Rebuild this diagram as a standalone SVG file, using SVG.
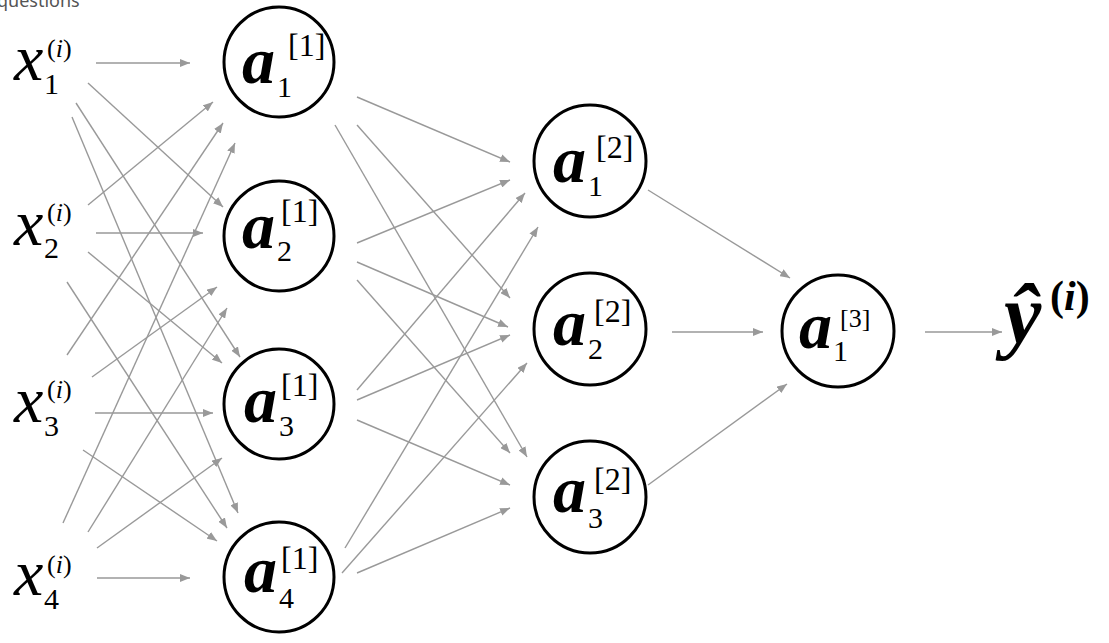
<svg xmlns="http://www.w3.org/2000/svg" width="1109" height="643" viewBox="0 0 1109 643">
<style>
text{font-family:"Liberation Serif","Times New Roman",Times,"DejaVu Serif",serif;fill:#000}
.c{fill:#fff;stroke:#000;stroke-width:3}
.e{stroke:#999;stroke-width:1.4;fill:none;marker-end:url(#ah)}
.a{font-style:italic;font-weight:bold;font-size:66px}
.x{font-style:italic;font-size:66px}
.s{font-size:30px}
.p{font-size:32px}
.q{font-size:26px}
.i{font-style:italic}
.t{font-family:"Noto Sans","Open Sans",sans-serif;font-size:18px;fill:#555}
</style>
<defs>
<marker id="ah" viewBox="0 0 10 8" refX="10" refY="4" markerWidth="10" markerHeight="8" markerUnits="userSpaceOnUse" orient="auto">
<path d="M0,0 L10,4 L0,8 z" fill="#999"/>
</marker>
</defs>
<rect width="1109" height="643" fill="#fff"/>
<text class="t" x="-3" y="7">questions</text>
<g id="connectors">
<line class="e" x1="96" y1="63" x2="190" y2="63"/>
<line class="e" x1="88" y1="83" x2="223" y2="207"/>
<line class="e" x1="76" y1="103" x2="240" y2="357"/>
<line class="e" x1="72" y1="117" x2="238" y2="513"/>
<line class="e" x1="88" y1="205" x2="213" y2="102"/>
<line class="e" x1="96" y1="233" x2="203" y2="233"/>
<line class="e" x1="88" y1="252" x2="222" y2="363"/>
<line class="e" x1="67" y1="282" x2="227" y2="528"/>
<line class="e" x1="67" y1="355" x2="223" y2="123"/>
<line class="e" x1="92" y1="377" x2="217" y2="287"/>
<line class="e" x1="95" y1="413" x2="213" y2="413"/>
<line class="e" x1="83" y1="450" x2="217" y2="541"/>
<line class="e" x1="63" y1="523" x2="235" y2="143"/>
<line class="e" x1="88" y1="532" x2="227" y2="308"/>
<line class="e" x1="97" y1="548" x2="222" y2="458"/>
<line class="e" x1="97" y1="578" x2="190" y2="578"/>
<line class="e" x1="357" y1="97" x2="510" y2="162"/>
<line class="e" x1="357" y1="125" x2="510" y2="298"/>
<line class="e" x1="335" y1="125" x2="527" y2="457"/>
<line class="e" x1="357" y1="243" x2="510" y2="180"/>
<line class="e" x1="357" y1="262" x2="508" y2="327"/>
<line class="e" x1="357" y1="280" x2="510" y2="453"/>
<line class="e" x1="357" y1="390" x2="525" y2="193"/>
<line class="e" x1="357" y1="400" x2="510" y2="335"/>
<line class="e" x1="357" y1="420" x2="510" y2="485"/>
<line class="e" x1="345" y1="548" x2="538" y2="227"/>
<line class="e" x1="342" y1="573" x2="527" y2="363"/>
<line class="e" x1="357" y1="573" x2="510" y2="508"/>
<line class="e" x1="648" y1="190" x2="790" y2="278"/>
<line class="e" x1="672" y1="332" x2="763" y2="332"/>
<line class="e" x1="648" y1="485" x2="787" y2="384"/>
<line class="e" x1="925" y1="332" x2="1002" y2="332"/>
</g>
<g id="x1"><text class="x" x="14" y="80">x</text><text class="s" x="44" y="94">1</text><text class="q" x="47" y="57">(<tspan class="i">i</tspan>)</text></g>
<g id="x2"><text class="x" x="14" y="245">x</text><text class="s" x="44" y="258">2</text><text class="q" x="47" y="221">(<tspan class="i">i</tspan>)</text></g>
<g id="x3"><text class="x" x="14" y="422">x</text><text class="s" x="44" y="436">3</text><text class="q" x="47" y="398">(<tspan class="i">i</tspan>)</text></g>
<g id="x4"><text class="x" x="14" y="595">x</text><text class="s" x="44" y="609">4</text><text class="q" x="47" y="573">(<tspan class="i">i</tspan>)</text></g>
<g id="a11"><circle class="c" cx="279" cy="62" r="55"/><text class="a" x="242" y="83">a</text><text class="s" x="277" y="97">1</text><text class="p" x="288" y="56">[1]</text></g>
<g id="a21"><circle class="c" cx="279" cy="236" r="55"/><text class="a" x="242" y="248">a</text><text class="s" x="277" y="261">2</text><text class="p" x="281" y="222">[1]</text></g>
<g id="a31"><circle class="c" cx="279" cy="404" r="55"/><text class="a" x="244" y="422">a</text><text class="s" x="279" y="436">3</text><text class="p" x="281" y="396">[1]</text></g>
<g id="a41"><circle class="c" cx="279" cy="577" r="55"/><text class="a" x="244" y="592">a</text><text class="s" x="279" y="608">4</text><text class="p" x="281" y="569">[1]</text></g>
<g id="a12"><circle class="c" cx="590" cy="161" r="56"/><text class="a" x="553" y="182">a</text><text class="s" x="588" y="196">1</text><text class="p" x="596" y="158">[2]</text></g>
<g id="a22"><circle class="c" cx="590" cy="329" r="56"/><text class="a" x="553" y="345">a</text><text class="s" x="588" y="359">2</text><text class="p" x="594" y="322">[2]</text></g>
<g id="a32"><circle class="c" cx="590" cy="497" r="56"/><text class="a" x="553" y="512">a</text><text class="s" x="588" y="528">3</text><text class="p" x="594" y="490">[2]</text></g>
<g id="a13"><circle class="c" cx="838" cy="331" r="56"/><text class="a" x="799" y="348">a</text><text class="s" x="833" y="361">1</text><text class="q" x="840" y="327">[3]</text></g>
<g id="yhat"><text x="1004" y="343" font-style="italic" font-weight="bold" font-size="84">ŷ</text><text x="1050" y="310" font-weight="bold" font-size="42">(<tspan font-style="italic">i</tspan>)</text></g>
</svg>
